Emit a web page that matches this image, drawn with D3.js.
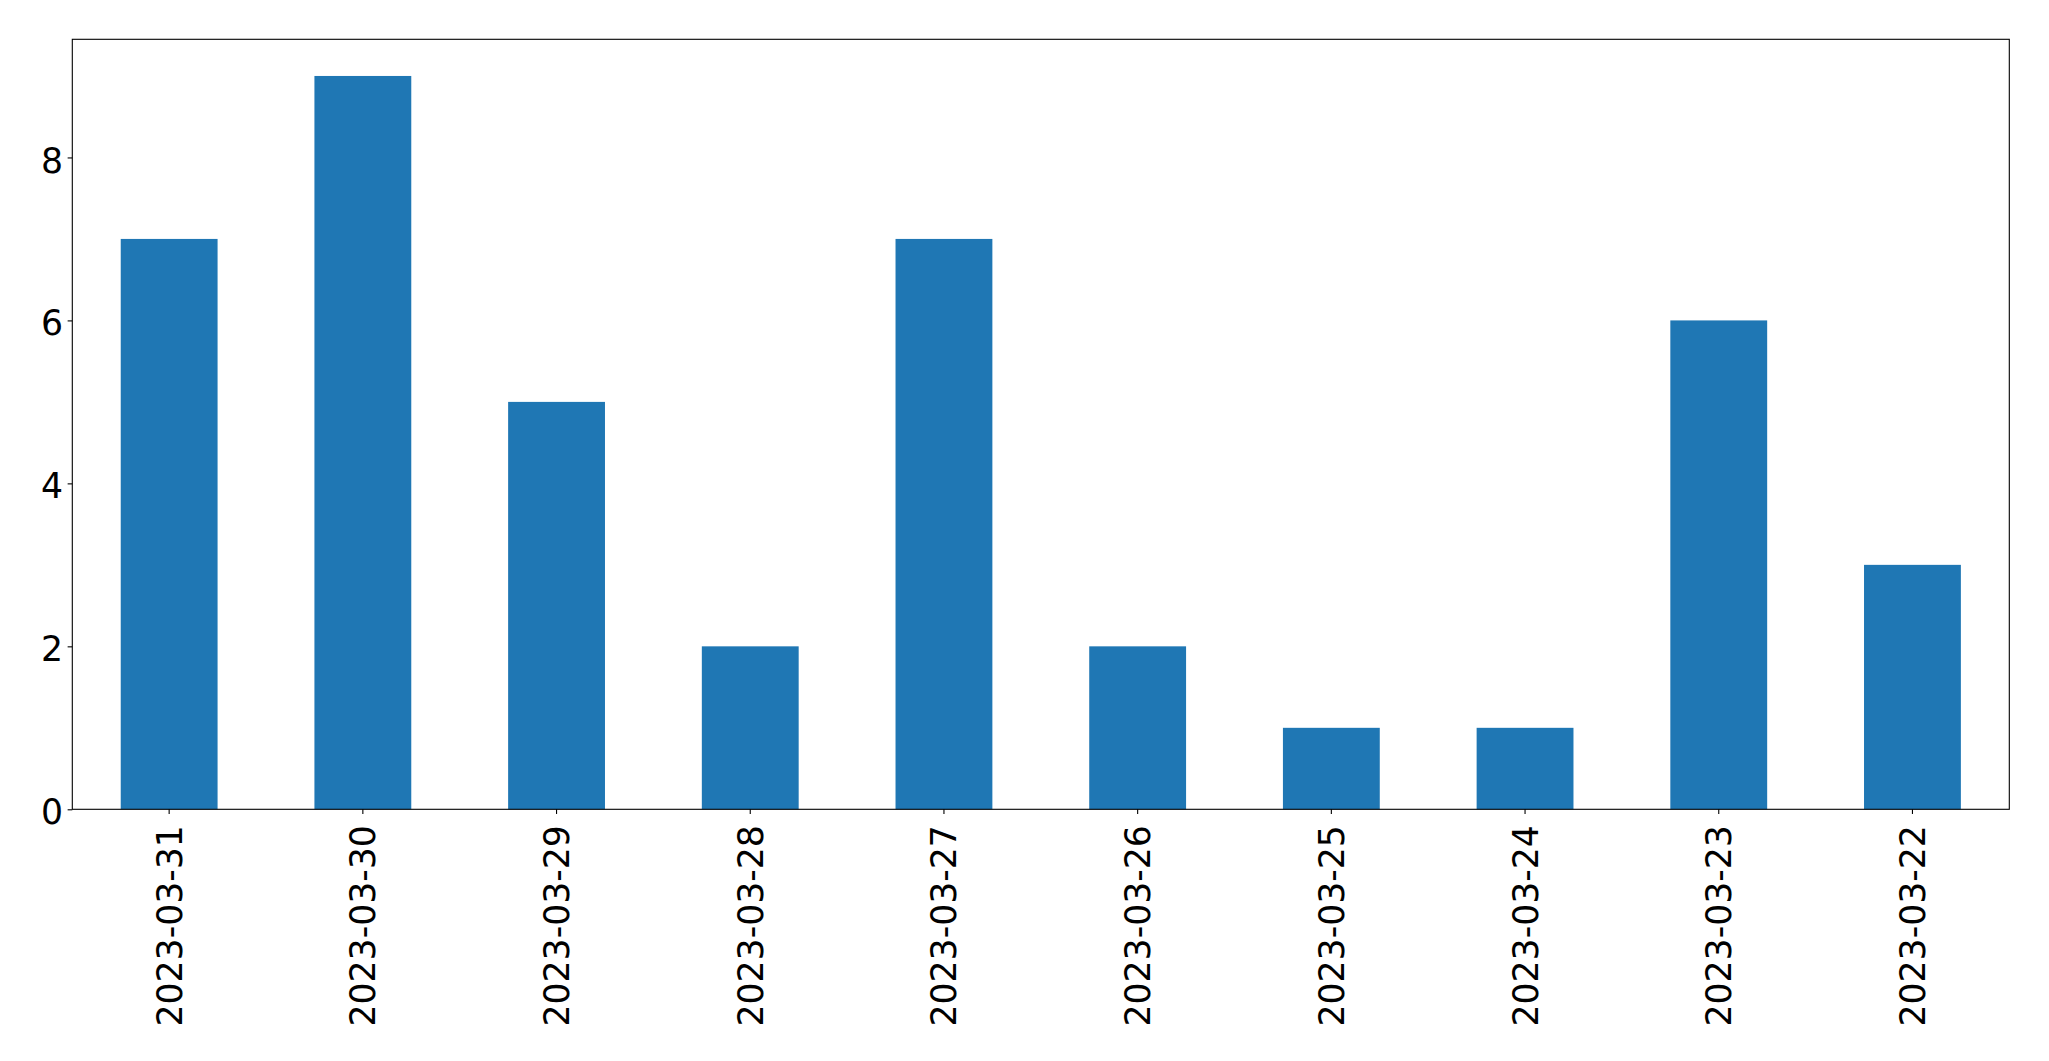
<!DOCTYPE html>
<html>
<head>
<meta charset="utf-8">
<script src="https://cdn.jsdelivr.net/npm/d3@7"></script>
<style>
  html, body { margin: 0; padding: 0; background: #fff; }
  svg { display: block; }
  text { font-family: "DejaVu Sans", sans-serif; fill: #000; }
</style>
</head>
<body>
<svg id="chart" width="2049" height="1061"></svg>
<script>
const categories = ["2023-03-31","2023-03-30","2023-03-29","2023-03-28","2023-03-27","2023-03-26","2023-03-25","2023-03-24","2023-03-23","2023-03-22"];
const values = [7, 9, 5, 2, 7, 2, 1, 1, 6, 3];
const yTicks = [0, 2, 4, 6, 8];

const W = 2049, H = 1061;
const margin = {left: 72.3, top: 39.3, right: W - 2009.3, bottom: H - 809.3};
const pw = W - margin.left - margin.right;
const ph = H - margin.top - margin.bottom;
const fontSize = 34.67;
const tickLen = 4.67, pad = 4.67;

const svg = d3.select("#chart");
const g = svg.append("g").attr("transform", `translate(${margin.left},${margin.top})`);

const x = d3.scaleBand().domain(categories).range([0, pw]).paddingInner(0.5).paddingOuter(0.25);
const yMax = d3.max(values) * 1.05;
const y = d3.scaleLinear().domain([0, yMax]).range([ph, 0]);

g.selectAll("rect.bar").data(values).enter().append("rect")
  .attr("class", "bar")
  .attr("x", (d, i) => x(categories[i]))
  .attr("width", x.bandwidth())
  .attr("y", d => y(d))
  .attr("height", d => y(0) - y(d))
  .attr("fill", "#1f77b4");

// Y axis
const yAxis = d3.axisLeft(y).tickValues(yTicks).tickSize(tickLen).tickPadding(pad).tickFormat(d3.format("d"));
const yg = g.append("g").call(yAxis);
yg.select(".domain").remove();
yg.selectAll("line").attr("stroke", "#000").attr("stroke-width", 1.1);
yg.selectAll("text").style("font-size", fontSize + "px").attr("dy", "0.42em").style("font-family", "DejaVu Sans");

// X axis
const xAxis = d3.axisBottom(x).tickSize(tickLen).tickPadding(pad);
const xg = g.append("g").attr("transform", `translate(0,${ph})`).call(xAxis);
xg.select(".domain").remove();
xg.selectAll("line").attr("stroke", "#000").attr("stroke-width", 1.1);
xg.selectAll("text")
  .style("font-size", fontSize + "px")
  .style("font-family", "DejaVu Sans")
  .attr("text-anchor", "end")
  .attr("x", 0)
  .attr("y", 0)
  .attr("dy", "0.36em")
  .attr("transform", `translate(0,${tickLen + pad + 6.5}) rotate(-90)`);

// Frame
g.append("rect")
  .attr("x", 0).attr("y", 0).attr("width", pw).attr("height", ph)
  .attr("fill", "none").attr("stroke", "#000").attr("stroke-width", 1.1);
</script>
</body>
</html>
